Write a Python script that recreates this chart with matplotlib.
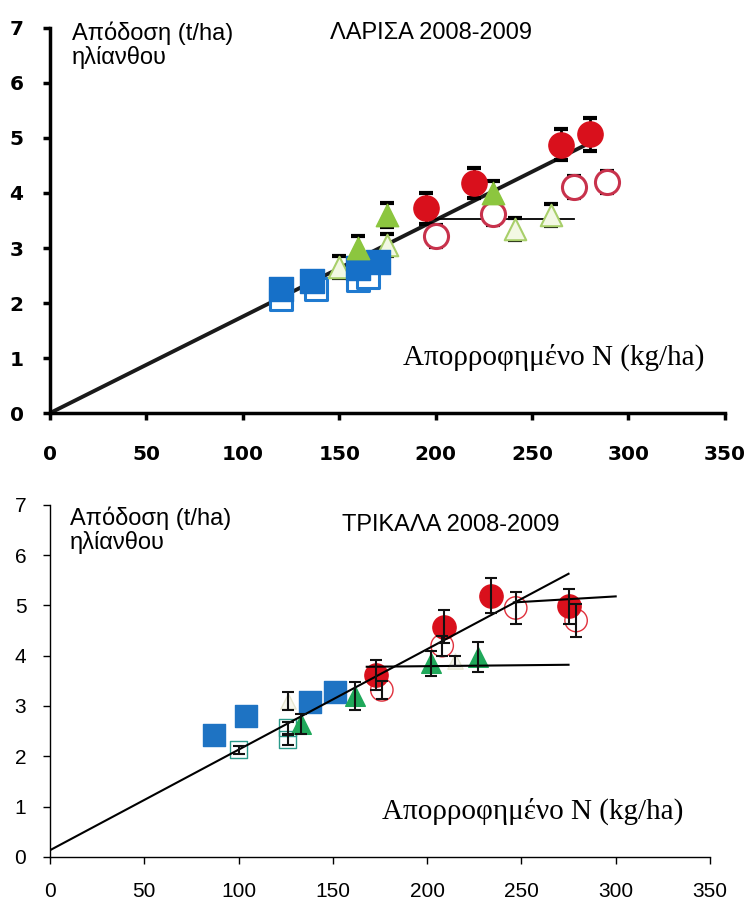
import numpy as np
import matplotlib.pyplot as plt

# ---- ΛΑΡΙΣΑ 2008-2009 (top) ----
lar_red_x = [195, 220, 265, 280]
lar_red_y = [3.72, 4.18, 4.88, 5.07]
lar_red_err = [0.28, 0.28, 0.28, 0.3]
lar_redo_x = [200, 230, 272, 289]
lar_redo_y = [3.22, 3.62, 4.1, 4.2]
lar_redo_err = [0.2, 0.2, 0.2, 0.2]
lar_grn_x = [160, 175, 230]
lar_grn_y = [3.0, 3.6, 4.0]
lar_grn_err = [0.22, 0.22, 0.22]
lar_grno_x = [150, 175, 241, 260]
lar_grno_y = [2.65, 3.05, 3.35, 3.6]
lar_grno_err = [0.2, 0.2, 0.2, 0.2]
lar_blu_x = [120, 136, 160, 170]
lar_blu_y = [2.25, 2.4, 2.64, 2.75]
lar_bluo_x = [120, 138, 160, 165]
lar_bluo_y = [2.08, 2.26, 2.42, 2.47]
lar_line_x = [0, 285]
lar_line_y = [0, 5.0]
lar_plat_x = [197, 272]
lar_plat_y = [3.52, 3.52]

# ---- ΤΡΙΚΑΛΑ 2008-2009 (bottom) ----
tri_blu_x = [87, 104, 138, 151]
tri_blu_y = [2.43, 2.8, 3.08, 3.28]
tri_bluo_x = [100, 126, 126]
tri_bluo_y = [2.13, 2.57, 2.33]
tri_bluo_err = [0.08, 0.12, 0.1]
tri_pale_x = [126, 215]
tri_pale_y = [3.1, 3.9]
tri_pale_err = [0.18, 0.1]
tri_grn_x = [133, 162, 202, 227]
tri_grn_y = [2.65, 3.2, 3.85, 3.97]
tri_grn_err = [0.2, 0.28, 0.25, 0.3]
tri_red_x = [173, 209, 234, 275]
tri_red_y = [3.62, 4.58, 5.19, 4.98]
tri_red_err = [0.3, 0.32, 0.35, 0.35]
tri_redo_x = [176, 208, 247, 279]
tri_redo_y = [3.32, 4.2, 4.95, 4.7]
tri_redo_err = [0.18, 0.2, 0.32, 0.32]
tri_line_x = [0, 275]
tri_line_y = [0.13, 5.63]
tri_plat1_x = [168, 275]
tri_plat1_y = [3.78, 3.82]
tri_plat2_x = [246, 300]
tri_plat2_y = [5.06, 5.18]

xticks = [0, 50, 100, 150, 200, 250, 300, 350]
yticks = [0, 1, 2, 3, 4, 5, 6, 7]

fig = plt.figure(figsize=(7.45, 9), dpi=100)

# ---------------- top chart ----------------
ax1 = fig.add_axes([0.067, 0.541, 0.906, 0.428])
ax1.set_xlim(0, 350)
ax1.set_ylim(0, 7)
for s in ['top', 'right']:
    ax1.spines[s].set_visible(False)
ax1.spines['left'].set_linewidth(2.5)
ax1.spines['bottom'].set_linewidth(2.5)
ax1.set_xticks(xticks)
ax1.set_yticks(yticks)
ax1.tick_params(axis='x', direction='out', length=5, width=2.5, labelsize=14.5, pad=18)
ax1.tick_params(axis='y', direction='out', length=5, width=2.5, labelsize=14.5, pad=14)
for lab in ax1.get_xticklabels() + ax1.get_yticklabels():
    lab.set_fontweight('bold')

ax1.plot(lar_line_x, lar_line_y, color='#1a1a1a', lw=2.8, zorder=2)
ax1.plot(lar_plat_x, lar_plat_y, color='black', lw=1.3, zorder=2)

ekw = dict(fmt='none', ecolor='black', elinewidth=2, capsize=5, capthick=3, zorder=3)
ax1.errorbar(lar_redo_x, lar_redo_y, yerr=lar_redo_err, **ekw)
ax1.errorbar(lar_grno_x, lar_grno_y, yerr=lar_grno_err, **ekw)
ax1.errorbar(lar_grn_x, lar_grn_y, yerr=lar_grn_err, **ekw)
ax1.errorbar(lar_red_x, lar_red_y, yerr=lar_red_err, **ekw)

ax1.scatter(lar_bluo_x, lar_bluo_y, marker='s', s=260, facecolor='white',
            edgecolor='#1f7ad0', linewidth=2.2, zorder=4)
ax1.scatter(lar_blu_x, lar_blu_y, marker='s', s=300, color='#1670c8', zorder=5)
ax1.scatter(lar_grno_x, lar_grno_y, marker='^', s=240, facecolor='#f3f8e4',
            edgecolor='#a8cf6a', linewidth=1.5, zorder=4)
ax1.scatter(lar_grn_x, lar_grn_y, marker='^', s=260, color='#8cc63f', zorder=5)
ax1.scatter(lar_redo_x, lar_redo_y, marker='o', s=300, facecolor='white',
            edgecolor='#c8324c', linewidth=2.2, zorder=4)
ax1.scatter(lar_red_x, lar_red_y, marker='o', s=330, color='#d9101c', zorder=5)

ax1.text(0.033, 1.017, 'Απόδοση (t/ha)\nηλίανθου', transform=ax1.transAxes,
         fontsize=17, va='top', ha='left', family='Liberation Sans', linespacing=1.05)
ax1.text(0.415, 1.015, 'ΛΑΡΙΣΑ 2008-2009', transform=ax1.transAxes,
         fontsize=17, va='top', ha='left', family='Liberation Sans')
ax1.text(0.97, 0.145, 'Απορροφημένο N (kg/ha)', transform=ax1.transAxes,
         fontsize=21, ha='right', va='center', family='Liberation Serif')

# ---------------- bottom chart ----------------
ax2 = fig.add_axes([0.067, 0.048, 0.886, 0.391])
ax2.set_xlim(0, 350)
ax2.set_ylim(0, 7)
for s in ['top', 'right']:
    ax2.spines[s].set_visible(False)
ax2.spines['left'].set_linewidth(1)
ax2.spines['bottom'].set_linewidth(1)
ax2.set_xticks(xticks)
ax2.set_yticks(yticks)
ax2.tick_params(axis='x', direction='out', length=5, width=1, labelsize=15, pad=13)
ax2.tick_params(axis='y', direction='out', length=5, width=1, labelsize=15, pad=12)
for lab in ax2.get_xticklabels() + ax2.get_yticklabels():
    lab.set_family('Liberation Sans')

ax2.plot(tri_line_x, tri_line_y, color='black', lw=1.5, zorder=6)
ax2.plot(tri_plat1_x, tri_plat1_y, color='black', lw=1.5, zorder=6)
ax2.plot(tri_plat2_x, tri_plat2_y, color='black', lw=1.5, zorder=6)

ekw2 = dict(fmt='none', ecolor='#111111', elinewidth=1.5, capsize=4, capthick=1.5, zorder=7)
ax2.scatter(tri_bluo_x, tri_bluo_y, marker='s', s=150, facecolor='none',
            edgecolor='#2a9a8a', linewidth=1, zorder=3)
ax2.scatter(tri_pale_x, tri_pale_y, marker='^', s=120, facecolor='#f7f7ee',
            edgecolor='#e6e6d0', linewidth=1, zorder=3)
ax2.scatter(tri_blu_x, tri_blu_y, marker='s', s=260, color='#1e73c3', zorder=4)
ax2.scatter(tri_grn_x, tri_grn_y, marker='^', s=200, color='#1fa85a', zorder=4)
ax2.scatter(tri_redo_x, tri_redo_y, marker='o', s=260, facecolor='none',
            edgecolor='#e0303c', linewidth=1, zorder=4)
ax2.scatter(tri_red_x, tri_red_y, marker='o', s=280, color='#d9101c', zorder=5)
ax2.errorbar(tri_bluo_x, tri_bluo_y, yerr=tri_bluo_err, **ekw2)
ax2.errorbar(tri_pale_x, tri_pale_y, yerr=tri_pale_err, **ekw2)
ax2.errorbar(tri_grn_x, tri_grn_y, yerr=tri_grn_err, **ekw2)
ax2.errorbar(tri_red_x, tri_red_y, yerr=tri_red_err, **ekw2)
ax2.errorbar(tri_redo_x, tri_redo_y, yerr=tri_redo_err, **ekw2)

ax2.text(0.03, 0.995, 'Απόδοση (t/ha)\nηλίανθου', transform=ax2.transAxes,
         fontsize=17, va='top', ha='left', family='Liberation Sans', linespacing=1.05)
ax2.text(0.442, 0.975, 'ΤΡΙΚΑΛΑ 2008-2009', transform=ax2.transAxes,
         fontsize=17, va='top', ha='left', family='Liberation Sans')
ax2.text(0.959, 0.128, 'Απορροφημένο N (kg/ha)', transform=ax2.transAxes,
         fontsize=21, ha='right', va='center', family='Liberation Serif')

fig.savefig('out.png', dpi=100)
